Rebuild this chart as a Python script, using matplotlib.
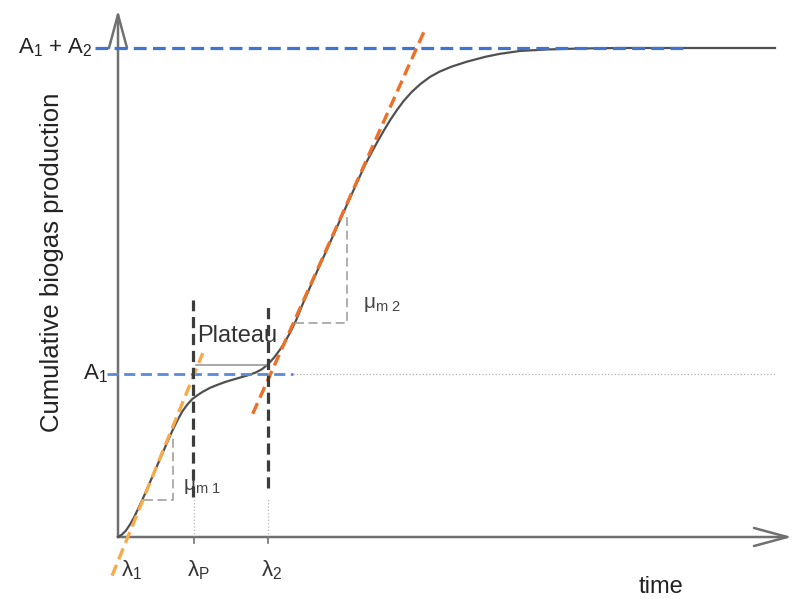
import matplotlib
matplotlib.use("Agg")
import matplotlib.pyplot as plt
from matplotlib.patches import FancyArrowPatch

plt.rcParams['font.family'] = ['Liberation Sans', 'DejaVu Sans']
plt.rcParams['mathtext.fontset'] = 'custom'
plt.rcParams['mathtext.rm'] = 'Liberation Sans'
plt.rcParams['mathtext.it'] = 'Liberation Sans'
plt.rcParams['mathtext.default'] = 'rm'

# two-phase cumulative biogas curve (time, production)
curve_t = [0.0, 0.6, 1.2, 1.8, 2.4, 3.0, 4.0, 4.9, 5.8, 6.7, 7.6, 8.4,
           9.1, 9.8, 10.5, 11.3, 12.1, 12.9, 14.0, 15.1, 16.3, 17.8,
           19.6, 20.9, 21.9, 22.8, 23.7, 24.7, 25.4, 26.2, 27.1, 28.1,
           29.2, 32.3, 35.3, 37.6, 38.7, 39.6, 40.5, 41.4, 42.5, 43.5,
           44.7, 46.0, 47.5, 49.0, 50.8, 53.1, 55.9, 58.1, 61.2, 65.3,
           70.3, 76.4, 100.0]
curve_y = [0.0, 0.5, 1.3, 2.5, 3.9, 5.6, 8.5, 11.3, 14.1, 16.9, 19.7, 22.1,
           24.0, 25.7, 27.0, 28.2, 29.0, 29.7, 30.5, 31.1, 31.7, 32.3,
           33.0, 33.6, 34.3, 35.3, 36.6, 38.4, 39.9, 41.8, 44.3, 47.6,
           51.0, 60.3, 69.3, 76.1, 78.9, 81.1, 83.2, 85.2, 87.4, 89.2,
           91.0, 92.6, 94.1, 95.2, 96.2, 97.2, 98.2, 98.8, 99.4, 99.7,
           99.9, 100.0, 100.0]

A1 = 33.3
A12 = 100.0
lam1, lamP, lam2 = 2.1, 11.5, 22.9

# tangents at the maximum rates
tan1_t = [-0.9, 12.9]
tan1_y = [-7.9, 37.6]
tan2_t = [20.5, 46.7]
tan2_y = [25.2, 103.7]

# slope triangles
mu1_t = [4.0, 8.4, 8.4]
mu1_y = [7.6, 7.6, 20.4]
mu2_t = [26.9, 34.9, 34.9]
mu2_y = [43.8, 43.8, 66.0]

plateau_t = [11.8, 22.7]
plateau_y = [35.2, 35.2]

fig = plt.figure(figsize=(8.01, 5.99), dpi=100)
ax = fig.add_axes([118 / 801, 62 / 599, 657 / 801, 489 / 599])
ax.set_xlim(0, 100)
ax.set_ylim(0, 100)
ax.axis('off')

axis_col = '#707070'
kw = dict(clip_on=False)

# axes arrows
for end in [(0, 107.8), (102.6, 0)]:
    arr = FancyArrowPatch((0, 0), end, arrowstyle='->,head_length=2.4,head_width=0.65',
                          mutation_scale=10, color=axis_col, lw=1.8,
                          shrinkA=0, shrinkB=0, clip_on=False, zorder=1)
    ax.add_patch(arr)

# curve
ax.plot(curve_t, curve_y, color='#505050', lw=1.6, zorder=2, **kw)

# asymptote levels
ax.plot([-3.5, 86.0], [A12, A12], color='#3f74d0', lw=2.3, dashes=(4, 2), zorder=3, **kw)
ax.plot([-1.7, 26.6], [A1, A1], color='#5b8ad8', lw=2.0, dashes=(4, 2), zorder=3, **kw)
ax.plot([26.6, 100], [A1, A1], color='#b0b0b0', lw=0.9, ls=':', zorder=1, **kw)

# tangents
ax.plot(tan1_t, tan1_y, color='#f6aa4a', lw=2.4, dashes=(3.5, 1.8), zorder=3, **kw)
ax.plot(tan2_t, tan2_y, color='#ee7026', lw=2.4, dashes=(3.5, 1.8), zorder=3, **kw)

# slope triangles and plateau
ax.plot(mu1_t, mu1_y, color='#a8a8a8', lw=1.3, dashes=(5, 2.5), zorder=2, **kw)
ax.plot(mu2_t, mu2_y, color='#a8a8a8', lw=1.3, dashes=(5, 2.5), zorder=2, **kw)
ax.plot(plateau_t, plateau_y, color='#9a9a9a', lw=1.2, zorder=2, **kw)

# phase boundaries
ax.plot([11.4, 11.4], [8.2, 48.5], color='#3c3c3c', lw=2.3, dashes=(3.5, 1.8), zorder=4, **kw)
ax.plot([22.8, 22.8], [10.0, 47.9], color='#3c3c3c', lw=2.3, dashes=(3.5, 1.8), zorder=4, **kw)
for lx in (lamP, lam2):
    ax.plot([lx, lx], [0, 8.0], color='#b8b8b8', lw=0.9, ls=':', zorder=1, **kw)
    ax.plot([lx, lx], [0, -1.2], color=axis_col, lw=1.2, zorder=1, **kw)

# labels
ax.text(-3.8, A12, 'A$_1$ + A$_2$', fontsize=16, ha='right', va='center', color='#222222')
ax.text(-1.6, A1, 'A$_1$', fontsize=16, ha='right', va='center', color='#222222')
ax.text(-10.0, 56.2, 'Cumulative biogas production', fontsize=18.5, rotation=90,
        ha='center', va='center', color='#222222')
ax.text(82.6, -11.4, 'time', fontsize=17, ha='center', va='baseline', color='#222222')
ax.text(lam1, -8.0, 'λ$_1$', fontsize=16, ha='center', va='baseline', color='#333333')
ax.text(lamP + 0.8, -8.0, 'λ$_P$', fontsize=16, ha='center', va='baseline', color='#333333')
ax.text(lam2 + 0.5, -8.0, 'λ$_2$', fontsize=16, ha='center', va='baseline', color='#333333')
ax.text(12.0, 39.9, 'Plateau', fontsize=17, ha='left', va='baseline', color='#333333')
ax.text(9.9, 9.6, 'μ$_{m\\ 1}$', fontsize=15, ha='left', va='baseline', color='#444444')
ax.text(37.3, 46.8, 'μ$_{m\\ 2}$', fontsize=15, ha='left', va='baseline', color='#444444')

fig.savefig('out.png', dpi=100)
